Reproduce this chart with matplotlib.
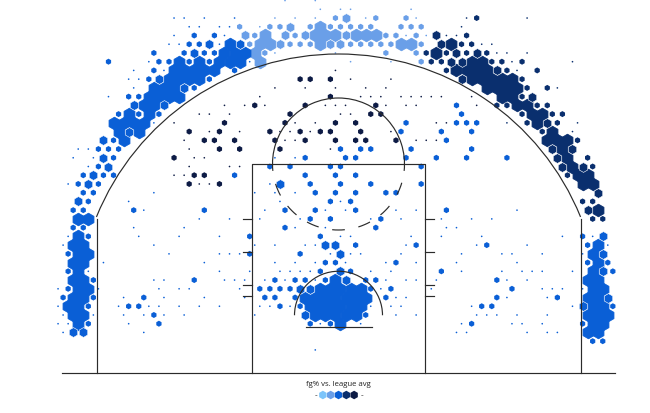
import numpy as np
import matplotlib
matplotlib.use('Agg')
import matplotlib.pyplot as plt
from matplotlib.patches import Arc

# hex bins as {row: [columns]}, row 0 is near the top of the chart
light_full = {1: [14], 2: [9, 14, 15, 16, 18, 19, 20], 3: [8, 9, 14, 22, 23], 4: [8], 5: [8]}
light_med = {0: [17], 1: [11], 2: [7, 11, 13, 17], 3: [10, 15, 16]}
light_small = {0: [16, 20, 23], 1: [6, 9, 10, 13, 15, 16, 17, 18, 19, 22, 23, 24], 2: [8, 12, 21, 22, 24],
               3: [7, 11, 12, 13, 17, 18, 19, 20, 21, 24], 4: [9, 21, 24], 5: [24]}
light_tiny = {-2: [11, 14], -1: [14, 16, 17, 23], 0: [10, 12, 14, 19, 24], 1: [8], 2: [23, 25], 4: [10, 16], 5: [17, 21]}

blue_full = {3: [5], 4: [5, 6, 7], 5: [0, 2, 4, 5, 6], 6: [0, 1, 2, 3, 4], 7: [-1, 0, 1, 2], 8: [-2, -1, 0],
             9: [-3, -2, -1, 0], 10: [-3, -2], 11: [-5, -3], 12: [-6, -5, -4, -3], 13: [-6, -4], 14: [-5],
             23: [-10, -9], 25: [-10], 26: [-10, -9, 42], 27: [-10, -9, 41], 28: [-10, -9, 42], 29: [-10, 41],
             30: [-10, -9, 16, 41, 42], 31: [-10, -9, 14, 15, 16, 17, 18, 41, 42],
             32: [-10, -9, 13, 14, 15, 16, 17, 18, 19, 41, 42], 33: [-11, -10, 13, 14, 15, 16, 17, 18, 41, 42],
             34: [-10, -9, 14, 15, 16, 17, 18, 41, 42, 43], 35: [-10, 16, 41, 42], 36: [41, 42]}
blue_med = {3: [3, 6], 4: [2], 7: [-2], 8: [1], 10: [-4, -1], 13: [-5], 14: [-7], 16: [-7], 17: [-7], 18: [-8],
            19: [-9, 10], 21: [-10], 25: [42], 26: [15, 16], 27: [16, 42], 29: [16, 42], 30: [17], 31: [12, 13],
            32: [43], 33: [40], 34: [13], 36: [-10, -9]}
blue_small = {2: [2, 4], 3: [1, 2], 4: [-2, 1, 3, 4], 5: [-7, -2, -1, 1, 3], 6: [-2, 6], 7: [-3, 3], 8: [2],
              9: [-5, -4], 10: [28], 11: [-6, -4, -2, 28], 12: [23, 28, 29, 30], 13: [22, 26, 29], 14: [-6, 27],
              15: [-8, -7, -6, 16, 18, 19, 23, 29], 16: [-6, 13, 17, 18, 23, 26, 29, 33], 17: [-8, 9, 11, 15, 16, 24],
              18: [-9, -7, -6, 6, 13, 16, 18], 19: [-10, -8, 13, 16, 19, 24], 20: [-9, -8, 14, 16, 18, 21, 22],
              21: [-9, 15, 17], 22: [-10, -9, -4, 3, 11, 14, 18, 27], 23: [13, 15, 20], 24: [-10, -9, 11, 20],
              25: [-9, 7, 14, 40], 26: [18, 24, 31, 41], 27: [-11, 7, 12], 28: [15, 16, 22, 41, 43],
              29: [-11, 14, 17, 26, 43], 30: [-8, 2, 10, 12, 13, 15, 19, 20, 32], 31: [-11, 8, 9, 10, 11, 19, 21, 33],
              32: [-11, -8, -3, 9, 10, 12, 21, 32, 38], 33: [-9, -5, -4, 10, 12, 30, 31, 43], 34: [-2, 19],
              35: [-9, -2, 13, 15, 29, 40], 37: [41, 42]}
blue_tiny = {0: [0, 1, 3, 6], 1: [1, 2, 4, 5], 2: [0, 5], 3: [-1, 0, 4], 5: [-3, 7], 6: [-4, -1], 7: [-5, -4],
             8: [-4], 9: [-7], 12: [-2], 15: [-10, -9], 16: [-10, -8, 10, 12], 17: [-9], 19: [-11, 9],
             20: [-2, 8, 10, 12], 21: [-5, 10, 16], 22: [-3, 9, 15, 17, 22, 24, 34], 23: [2, 5, 8, 12, 19, 22, 26, 29, 31],
             24: [-4, 1, 12, 15, 27, 28], 25: [-11, -4, 0, 4, 16, 17, 23, 26, 30, 38, 41],
             26: [-11, -2, 8, 10, 13, 14, 23, 30, 35, 43], 27: [-1, 4, 5, 6, 15, 17, 18, 22, 28, 32, 33, 36, 40],
             28: [-7, 3, 10, 12, 14, 17, 21, 24, 28, 34], 29: [-9, 4, 7, 10, 11, 12, 13, 19, 21, 28, 32, 34, 35, 36, 39],
             30: [-2, -1, 5, 6, 7, 9, 11, 14, 21, 23, 24, 26, 33, 35], 31: [-12, -8, -2, 0, 1, 6, 20, 25, 36, 37, 38, 40],
             32: [-5, -1, 3, 7, 22, 23, 33, 37], 33: [-12, -6, -3, -2, 0, 2, 4, 8, 9, 11, 19, 21, 22, 29, 39],
             34: [-11, -8, -5, -3, -1, 1, 8, 22, 24, 30, 31, 32, 34, 37], 35: [-12, -11, -5, 14, 18, 28, 33, 34, 36],
             36: [-11, -3, 28, 29, 35, 37, 38], 38: [14]}

navy_full = {3: [27], 4: [26], 5: [29, 30], 6: [28, 29, 30, 31], 7: [29, 30, 31, 32, 33], 8: [31, 32, 33, 34],
             9: [32, 33], 10: [34, 35], 11: [35, 36], 12: [36], 13: [37], 14: [37, 38, 39], 15: [38], 16: [39],
             17: [39], 18: [40, 41], 19: [40, 41], 22: [42]}
navy_med = {2: [26], 3: [26], 4: [28, 30], 5: [27, 28], 6: [32], 7: [28], 9: [35], 12: [37], 15: [37, 39],
            16: [38], 17: [38, 40], 20: [42], 22: [41]}
navy_small = {0: [30], 2: [29], 3: [28, 29], 4: [25, 27, 29, 31], 5: [25, 26, 31, 32, 34], 6: [27, 33, 36], 7: [34],
              8: [35, 37], 9: [34], 10: [32, 33, 36, 37], 11: [34, 37, 38], 12: [35, 38], 13: [36], 14: [40],
              16: [41], 17: [41], 18: [39], 21: [40, 41], 23: [41, 42]}
navy_tiny = {0: [29, 35], 1: [28], 2: [27, 28], 3: [30, 31], 4: [32, 33, 35], 5: [33, 39], 6: [34], 8: [38],
             12: [33, 40], 13: [39]}

black_small = {7: [12, 13, 15], 9: [15], 10: [8, 13, 20], 11: [11, 19, 20], 12: [5, 11, 16, 18],
               13: [1, 4, 9, 12, 14, 15, 18], 14: [3, 4, 6, 10, 13, 16, 18, 19, 22], 15: [4, 6, 10], 16: [0],
               18: [2, 3], 19: [1, 4]}
black_tiny = {6: [16], 7: [17, 21], 8: [10, 13, 16, 19, 21], 9: [8, 18, 19, 20, 22, 23, 24, 25, 26, 29],
              10: [5, 7, 9, 15, 16, 17, 21, 23, 24, 30], 11: [2, 3, 5, 16, 17], 12: [0, 12, 14, 26, 27],
              13: [3, 6, 10, 11, 13, 21], 14: [1, 11, 12, 24, 25, 26], 15: [1, 15], 16: [2, 3], 17: [1, 5, 6],
              18: [0, 1], 19: [2, 3]}

lane_ticks = [7, 8, 11, 14]
ft_dash_angles = [203, 225, 247, 270, 293, 315, 338]
legend_colors = ['#7cc4fa', '#6a9fe8', '#0a5fd6', '#0a2f6e', '#0d1b45']

bin_w = 0.917
bin_h = 0.794
x0 = -14.95
y0 = 32.27

def bins(d):
    xs, ys = [], []
    for row, cols in d.items():
        for c in cols:
            xs.append(x0 + bin_w * (c + 0.5 * (row % 2)))
            ys.append(y0 - bin_h * row)
    return xs, ys

fig = plt.figure(figsize=(6.5, 4.14), dpi=100)
ax = fig.add_axes([0, 0, 1, 1])
ax.set_xlim(-338.5 / 11, 311.5 / 11)
ax.set_ylim(-40 / 11, 374 / 11)
ax.axis('off')

C_LIGHT, C_BLUE, C_NAVY, C_BLACK = legend_colors[1:]

# biggest first, smaller bins sit on top with a white outline
for d, col in [(light_full, C_LIGHT), (blue_full, C_BLUE), (navy_full, C_NAVY)]:
    x, y = bins(d)
    ax.scatter(x, y, s=82, marker='h', color=col, edgecolors=col, linewidths=0.6, zorder=2)
for d, col in [(light_med, C_LIGHT), (blue_med, C_BLUE), (navy_med, C_NAVY)]:
    x, y = bins(d)
    ax.scatter(x, y, s=50, marker='h', color=col, edgecolors='white', linewidths=0.4, zorder=3)
for d, col in [(light_small, C_LIGHT), (blue_small, C_BLUE), (navy_small, C_NAVY), (black_small, C_BLACK)]:
    x, y = bins(d)
    ax.scatter(x, y, s=19, marker='h', color=col, edgecolors='none', zorder=3)
for d, col in [(light_tiny, C_LIGHT), (blue_tiny, C_BLUE), (navy_tiny, C_NAVY), (black_tiny, C_BLACK)]:
    x, y = bins(d)
    ax.scatter(x, y, s=1.7, marker='h', color=col, edgecolors='none', zorder=3)

# court, 11 px to the foot
line = dict(color='#2b2b2b', lw=0.85, zorder=4)
ax.plot([-25.1, 25.1], [0, 0], **line)
ax.plot([-22, -22], [0, 14], **line)
ax.plot([22, 22], [0, 14], **line)
ax.add_patch(Arc((0, 5.25), 47.5, 47.5, theta1=22.1, theta2=157.9, **line))
ax.plot([-7.9, -7.9, 7.9, 7.9], [0, 19, 19, 0], **line)
ax.add_patch(Arc((0, 19), 12, 12, theta1=-6, theta2=186, **line))
for a in ft_dash_angles:
    ax.add_patch(Arc((0, 19), 12, 12, theta1=a - 5.5, theta2=a + 5.5, **line))
ax.add_patch(Arc((0, 5.25), 8, 8, theta1=0, theta2=180, **line))
ax.plot([-3, 3], [4.2, 4.2], **line)
for t in lane_ticks:
    ax.plot([-8.7, -7.9], [t, t], **line)
    ax.plot([7.9, 8.7], [t, t], **line)

# legend
ax.text(0, -1.0, 'fg% vs. league avg', ha='center', va='center', fontsize=5.6,
        family='Open Sans', color='#222222')
leg_x = (np.arange(5) - 2) * 0.71
ax.scatter(leg_x, [-2] * 5, s=38, marker='h', c=legend_colors, edgecolors='none', zorder=3)
ax.text(-2.0, -2, '-', ha='center', va='center', fontsize=6, family='Open Sans', color='#222222')
ax.text(2.1, -2, '-', ha='center', va='center', fontsize=6, family='Open Sans', color='#222222')

fig.savefig('out.png', dpi=100)
